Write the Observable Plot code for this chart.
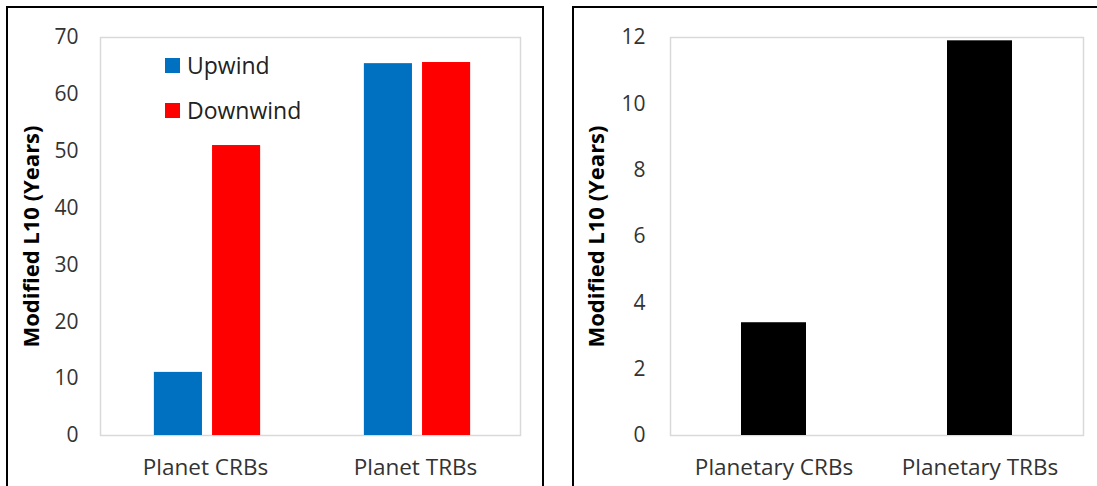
<!DOCTYPE html>
<html>
<head>
<meta charset="utf-8">
<script src="https://cdn.jsdelivr.net/npm/d3@7"></script>
<script src="https://cdn.jsdelivr.net/npm/@observablehq/plot@0.6"></script>
<style>
  html, body { margin: 0; padding: 0; background: #fff; overflow: hidden; }
  body { width: 1097px; height: 486px; position: relative; font-family: "Open Sans", sans-serif; }
  .panel { position: absolute; border: 2px solid #000; background: #fff; box-sizing: border-box; }
  #left { left: 6px; top: 6px; width: 538px; height: 500px; }
  #right { left: 572px; top: 6px; width: 540px; height: 500px; }
  .panel svg { position: absolute; left: 0; top: 0; }
  .legend { position: absolute; font-size: 23px; color: #222; }
  .legend .row { position: absolute; white-space: nowrap; display: flex; align-items: center; height: 24px; }
  .legend .sw { width: 15px; height: 15px; margin-right: 7px; }
</style>
</head>
<body>
<div id="left" class="panel"></div>
<div id="right" class="panel"></div>
<script>
// ---- data ----
const leftCategories = ["Planet CRBs", "Planet TRBs"];
const leftSeries = ["Upwind", "Downwind"];
const upwindValues = [11.1, 65.4];
const downwindValues = [51.0, 65.6];
const leftTicks = [0, 10, 20, 30, 40, 50, 60, 70];

const rightCategories = ["Planetary CRBs", "Planetary TRBs"];
const rightValues = [3.4, 11.9];
const rightTicks = [0, 2, 4, 6, 8, 10, 12];

const seriesColors = ["#0070C0", "#FF0000"];
const yTitle = "Modified L10 (Years)";

const font = '"Open Sans", sans-serif';
const frameColor = "#d9d9d9";
const textColor = "#333";

// ---- left chart ----
const leftTable = [];
leftCategories.forEach((c, i) => {
  leftTable.push({category: c, series: leftSeries[0], value: upwindValues[i]});
  leftTable.push({category: c, series: leftSeries[1], value: downwindValues[i]});
});

const L = {width: 534, height: 478, ml: 92, mr: 22, mt: 29, mb: 51};
const band = (L.width - L.ml - L.mr) / leftCategories.length;
const barW = 0.229 * band, gap = 0.048 * band;
const groupStart = (band - (2 * barW + gap)) / 2 + 2;
const insetFor = (k) => {
  const left = groupStart + k * (barW + gap);
  return {insetLeft: left, insetRight: band - left - barW};
};

const leftPlot = Plot.plot({
  width: L.width, height: L.height,
  marginLeft: L.ml, marginRight: L.mr, marginTop: L.mt, marginBottom: L.mb,
  style: {fontFamily: font, fontSize: "20px", color: textColor, background: "transparent"},
  x: {type: "band", domain: leftCategories, padding: 0, label: null},
  y: {domain: [0, 70], label: null},
  color: {domain: leftSeries, range: seriesColors},
  marks: [
    Plot.frame({stroke: frameColor, strokeWidth: 1.5}),
    ...leftSeries.map((s, k) => Plot.barY(leftTable.filter(d => d.series === s), {
      x: "category", y: "value", fill: "series", ...insetFor(k)
    })),
    Plot.axisX({tickSize: 0, tickPadding: 24, fontSize: 22.5, label: null}),
    Plot.axisY({ticks: leftTicks, tickSize: 0, tickPadding: 22, fontSize: 21,
      label: yTitle, labelAnchor: "center", labelArrow: "none", labelOffset: 77}),
  ]
});
document.getElementById("left").appendChild(leftPlot);

// legend (inside plot area)
const leg = document.createElement("div");
leg.className = "legend";
leftSeries.forEach((s, i) => {
  const row = document.createElement("div");
  row.className = "row";
  row.style.left = "157px";
  row.style.top = (45 + i * 45) + "px";
  row.innerHTML = `<div class="sw" style="background:${seriesColors[i]}"></div><span>${s}</span>`;
  leg.appendChild(row);
});
document.getElementById("left").appendChild(leg);

// ---- right chart ----
const rightTable = rightCategories.map((c, i) => ({category: c, value: rightValues[i]}));
const rightPlot = Plot.plot({
  width: 521, height: 478,
  marginLeft: 96, marginRight: 12, marginTop: 29, marginBottom: 51,
  style: {fontFamily: font, fontSize: "20px", color: textColor, background: "transparent"},
  x: {type: "band", domain: rightCategories, paddingInner: 0.685, paddingOuter: 0.3425, label: null},
  y: {domain: [0, 12], label: null},
  marks: [
    Plot.frame({stroke: frameColor, strokeWidth: 1.5}),
    Plot.barY(rightTable, {x: "category", y: "value", fill: "#000"}),
    Plot.axisX({tickSize: 0, tickPadding: 24, fontSize: 22.5, label: null}),
    Plot.axisY({ticks: rightTicks, tickSize: 0, tickPadding: 25, fontSize: 21,
      label: yTitle, labelAnchor: "center", labelArrow: "none", labelOffset: 82}),
  ]
});
document.getElementById("right").appendChild(rightPlot);

// bold axis titles
document.querySelectorAll("svg g[aria-label='y-axis label']").forEach(el => {
  el.style.fontWeight = "bold";
  el.style.fontSize = "22px";
  el.style.fill = "#000";
});
</script>
</body>
</html>
